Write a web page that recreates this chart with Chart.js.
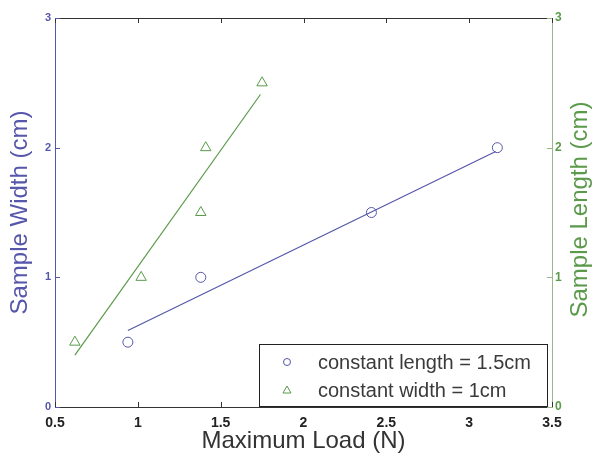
<!DOCTYPE html>
<html>
<head>
<meta charset="utf-8">
<script src="https://cdn.jsdelivr.net/npm/chart.js@4"></script>
<style>
  html, body { margin: 0; padding: 0; background: #fff; }
  #wrap { width: 593px; height: 456px; }
</style>
</head>
<body>
<div id="wrap"><canvas id="chart" width="593" height="456"></canvas></div>
<script>
const loadLength = [0.94, 1.38, 2.41, 3.17];
const widthValues = [0.5, 1.0, 1.5, 2.0];
const loadWidth = [0.62, 1.02, 1.38, 1.41, 1.75];
const lengthValues = [0.5, 1.0, 1.5, 2.0, 2.5];
// fitted lines, end points
const fitLengthX = [0.94, 3.16];
const fitLengthY = [0.59, 1.97];
const fitWidthX = [0.62, 1.74];
const fitWidthY = [0.40, 2.41];
const xTicks = [0.5, 1, 1.5, 2, 2.5, 3, 3.5];
const yTicks = [0, 1, 2, 3];

const BLUE = "#5656aa";
const GREEN = "#5a9a4a";
const AXIS_GREEN = "#9bb58c";
const FONT = "'Liberation Sans', Arial, sans-serif";

const pts = (xs, ys) => xs.map((x, i) => ({ x: x, y: ys[i] }));

// inward tick marks, top border, right title, legend box
const decor = {
  id: "decor",
  afterDraw(chart) {
    const ctx = chart.ctx;
    const a = chart.chartArea;
    const x = chart.scales.x, y = chart.scales.y;
    ctx.save();
    ctx.lineWidth = 1;
    // top border
    ctx.strokeStyle = "#333";
    ctx.beginPath();
    ctx.moveTo(a.left, a.top + 0.5);
    ctx.lineTo(a.right, a.top + 0.5);
    ctx.stroke();
    // x ticks
    xTicks.forEach(v => {
      const px = Math.round(x.getPixelForValue(v)) + 0.5;
      ctx.beginPath();
      ctx.moveTo(px, a.bottom); ctx.lineTo(px, a.bottom - 5);
      ctx.moveTo(px, a.top); ctx.lineTo(px, a.top + 5);
      ctx.stroke();
    });
    // y ticks
    yTicks.forEach(v => {
      const py = Math.round(y.getPixelForValue(v)) + 0.5;
      ctx.strokeStyle = BLUE;
      ctx.beginPath(); ctx.moveTo(a.left, py); ctx.lineTo(a.left + 5, py); ctx.stroke();
      ctx.strokeStyle = AXIS_GREEN;
      ctx.beginPath(); ctx.moveTo(a.right, py); ctx.lineTo(a.right - 5, py); ctx.stroke();
    });
    // right axis title, reading bottom to top
    ctx.fillStyle = GREEN;
    ctx.font = "24px " + FONT;
    ctx.textAlign = "center";
    ctx.textBaseline = "middle";
    ctx.translate(580, (a.top + a.bottom) / 2 - 3);
    ctx.rotate(-Math.PI / 2);
    ctx.fillText("Sample Length (cm)", 0, 0);
    ctx.setTransform(1, 0, 0, 1, 0, 0);
    // legend
    const bx = a.left + 204, by = a.bottom - 63, bw = a.right - 5 - bx, bh = 62;
    ctx.fillStyle = "#fff";
    ctx.fillRect(bx, by, bw, bh);
    ctx.strokeStyle = "#222";
    ctx.strokeRect(bx + 0.5, by + 0.5, bw, bh);
    ctx.font = "20px " + FONT;
    ctx.textAlign = "left";
    const entries = [chart.data.datasets[0], chart.data.datasets[1]];
    entries.forEach((ds, i) => {
      const ly = by + 18 + i * 28;
      const mx = bx + 28;
      ctx.strokeStyle = ds.borderColor;
      ctx.lineWidth = 1;
      ctx.beginPath();
      if (ds.pointStyle === "circle") {
        ctx.arc(mx, ly, 3.5, 0, Math.PI * 2);
      } else {
        ctx.moveTo(mx, ly - 4);
        ctx.lineTo(mx + 4, ly + 3);
        ctx.lineTo(mx - 4, ly + 3);
        ctx.closePath();
      }
      ctx.stroke();
      ctx.fillStyle = "#3a3a3a";
      ctx.fillText(ds.label, bx + 59, ly + 1);
    });
    ctx.restore();
  }
};

new Chart(document.getElementById("chart"), {
  type: "scatter",
  data: {
    datasets: [
      {
        label: "constant length = 1.5cm",
        data: pts(loadLength, widthValues),
        pointStyle: "circle",
        pointRadius: 5,
        borderColor: BLUE,
        backgroundColor: "rgba(0,0,0,0)",
        borderWidth: 1,
        yAxisID: "y"
      },
      {
        label: "constant width = 1cm",
        data: pts(loadWidth, lengthValues),
        pointStyle: "triangle",
        pointRadius: 6,
        borderColor: GREEN,
        backgroundColor: "rgba(0,0,0,0)",
        borderWidth: 1,
        yAxisID: "y2"
      },
      {
        label: "fit length",
        data: pts(fitLengthX, fitLengthY),
        showLine: true,
        pointRadius: 0,
        borderColor: BLUE,
        borderWidth: 1.2,
        yAxisID: "y"
      },
      {
        label: "fit width",
        data: pts(fitWidthX, fitWidthY),
        showLine: true,
        pointRadius: 0,
        borderColor: GREEN,
        borderWidth: 1.2,
        yAxisID: "y2"
      }
    ]
  },
  options: {
    responsive: false,
    animation: false,
    layout: { padding: { top: 18, left: 0, right: 0, bottom: 0 } },
    plugins: { legend: { display: false }, tooltip: { enabled: false } },
    scales: {
      x: {
        type: "linear",
        min: 0.5, max: 3.5,
        afterBuildTicks: s => { s.ticks = xTicks.map(v => ({ value: v })); },
        afterFit: s => { s.height = 49; },
        border: { color: "#333", width: 1 },
        grid: { display: false, drawTicks: false },
        ticks: {
          color: "#222",
          font: { family: FONT, size: 14, weight: "bold" },
          padding: 8,
          maxRotation: 0,
          callback: v => String(v)
        },
        title: {
          display: true,
          text: "Maximum Load (N)",
          color: "#333",
          font: { family: FONT, size: 24 },
          padding: { top: 0, bottom: 0 }
        }
      },
      y: {
        position: "left",
        min: 0, max: 3,
        afterBuildTicks: s => { s.ticks = yTicks.map(v => ({ value: v })); },
        afterFit: s => { s.width = 55; },
        border: { color: BLUE, width: 1 },
        grid: { display: false, drawTicks: false },
        ticks: { color: BLUE, font: { family: FONT, size: 11, weight: "bold" }, padding: 4 },
        title: {
          display: true,
          text: "Sample Width (cm)",
          color: BLUE,
          font: { family: FONT, size: 24 },
          padding: { top: 6, bottom: 0 }
        }
      },
      y2: {
        position: "right",
        min: 0, max: 3,
        afterBuildTicks: s => { s.ticks = yTicks.map(v => ({ value: v })); },
        afterFit: s => { s.width = 41; },
        border: { color: AXIS_GREEN, width: 1 },
        grid: { display: false, drawTicks: false },
        ticks: { color: GREEN, font: { family: FONT, size: 12, weight: "bold" }, padding: 3 }
      }
    }
  },
  plugins: [decor]
});
</script>
</body>
</html>
